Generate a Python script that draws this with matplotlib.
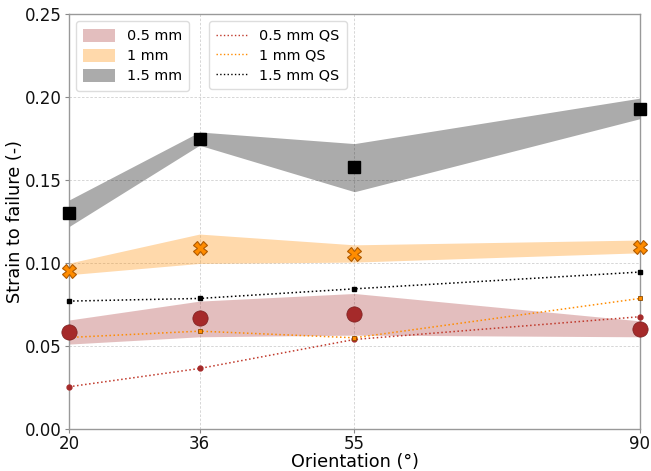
import matplotlib
matplotlib.use("Agg")
import matplotlib.pyplot as plt
from matplotlib.patches import Patch
from matplotlib.lines import Line2D

orient = [20, 36, 55, 90]

# Dynamic tests: mean and band (lower/upper)
mean_05 = [0.0586, 0.0667, 0.0693, 0.0600]
low_05 = [0.0512, 0.0556, 0.0566, 0.0556]
high_05 = [0.0657, 0.0771, 0.0817, 0.0652]

mean_10 = [0.0954, 0.1088, 0.1054, 0.1100]
low_10 = [0.0930, 0.0998, 0.1006, 0.1062]
high_10 = [0.1000, 0.1175, 0.1110, 0.1139]

mean_15 = [0.1300, 0.1750, 0.1576, 0.1930]
low_15 = [0.1220, 0.1710, 0.1430, 0.1870]
high_15 = [0.1380, 0.1790, 0.1720, 0.1994]

# Quasi-static
qs_05 = [0.0255, 0.0365, 0.0540, 0.0677]
qs_10 = [0.0552, 0.0590, 0.0550, 0.0787]
qs_15 = [0.0771, 0.0787, 0.0845, 0.0946]

yticks = [0.00, 0.05, 0.10, 0.15, 0.20, 0.25]

fig = plt.figure(figsize=(6.51, 4.71), dpi=100)
ax = fig.add_axes([0.106, 0.089, 0.877, 0.881])

c05 = '#a52a2a'
c10 = 'darkorange'

ax.fill_between(orient, low_05, high_05, color=c05, alpha=0.3, lw=0, zorder=1)
ax.fill_between(orient, low_10, high_10, color=c10, alpha=0.33, lw=0, zorder=1)
ax.fill_between(orient, low_15, high_15, color='black', alpha=0.33, lw=0, zorder=1)

ax.plot(orient, qs_05, ls=':', color='#c0392b', lw=1.1, marker='o', ms=3.5,
        mfc=c05, mec=c05, zorder=3, clip_on=False)
ax.plot(orient, qs_10, ls=':', color='darkorange', lw=1.1, marker='s', ms=3.5,
        mfc='darkorange', mec='#8a4a00', mew=0.6, zorder=3, clip_on=False)
ax.plot(orient, qs_15, ls=':', color='black', lw=1.1, marker='s', ms=3.5,
        mfc='black', mec='black', zorder=3, clip_on=False)

ax.plot(orient, mean_05, ls='none', marker='o', ms=11, mfc=c05, mec='#7a1f1f', mew=0.5,
        zorder=4, clip_on=False)
ax.plot(orient, mean_10, ls='none', marker='X', ms=10, mfc='darkorange', mec='#b05a00',
        mew=0.8, zorder=4, clip_on=False)
ax.plot(orient, mean_15, ls='none', marker='s', ms=8.5, mfc='black', mec='black',
        zorder=4, clip_on=False)

ax.set_xlim(20, 90)
ax.set_ylim(0, 0.25)
ax.set_xticks(orient)
ax.set_xticklabels([str(o) for o in orient])
ax.set_yticks(yticks)
ax.set_yticklabels([f"{v:.2f}" for v in yticks])
ax.tick_params(labelsize=12, color='#888888', length=3, pad=2, labelcolor='#111111')
ax.tick_params(axis='x', pad=1.5)
ax.grid(True, ls=(0, (3, 2)), color='#d0d0d0', lw=0.6, zorder=0)
ax.set_axisbelow(True)
for s in ax.spines.values():
    s.set_color('#999999')
    s.set_linewidth(1.0)

ax.set_xlabel('Orientation (°)', fontsize=12.7, labelpad=0)
ax.set_ylabel('Strain to failure (-)', fontsize=12.7, labelpad=1)

h1 = [Patch(facecolor=c05, alpha=0.3, edgecolor='none', label='0.5 mm'),
      Patch(facecolor=c10, alpha=0.33, edgecolor='none', label='1 mm'),
      Patch(facecolor='black', alpha=0.33, edgecolor='none', label='1.5 mm')]
leg1 = ax.legend(handles=h1, loc='upper left', bbox_to_anchor=(0.0, 1.0),
                 fontsize=10.4, handlelength=2.2, handleheight=1.0, handletextpad=0.8,
                 labelspacing=0.4, borderpad=0.5, edgecolor='#dddddd', framealpha=1)
ax.add_artist(leg1)
h2 = [Line2D([], [], ls=':', color='#c0392b', lw=1.0, label='0.5 mm QS'),
      Line2D([], [], ls=':', color='darkorange', lw=1.0, label='1 mm QS'),
      Line2D([], [], ls=':', color='black', lw=1.0, label='1.5 mm QS')]
ax.legend(handles=h2, loc='upper left', bbox_to_anchor=(0.232, 1.0),
          fontsize=10.4, handlelength=2.2, handletextpad=0.8, labelspacing=0.4,
          borderpad=0.5, edgecolor='#dddddd', framealpha=1)

fig.savefig('out.png', dpi=100)
